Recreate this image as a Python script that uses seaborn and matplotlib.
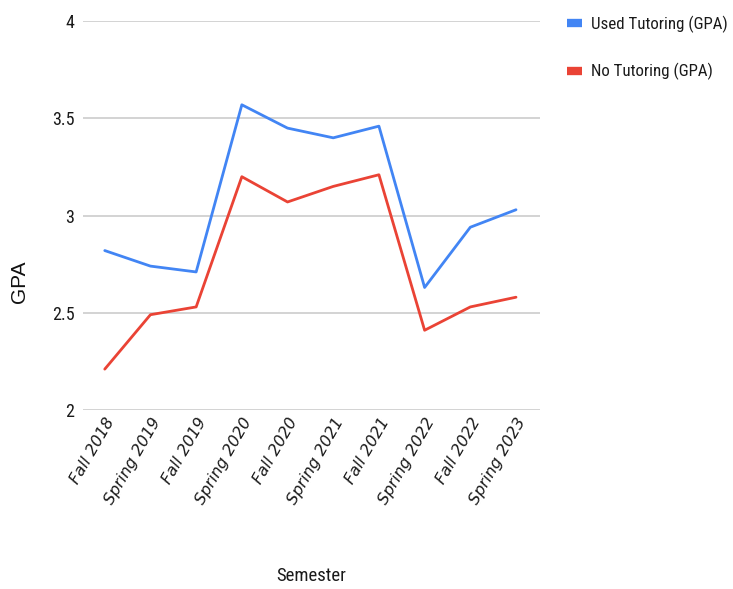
import matplotlib
matplotlib.use("Agg")
import matplotlib.pyplot as plt
from matplotlib import font_manager
from matplotlib.ticker import FuncFormatter
from matplotlib.lines import Line2D
import seaborn as sns
import pandas as pd

semesters = ["Fall 2018", "Spring 2019", "Fall 2019", "Spring 2020", "Fall 2020",
             "Spring 2021", "Fall 2021", "Spring 2022", "Fall 2022", "Spring 2023"]
used_tutoring = [2.82, 2.74, 2.71, 3.57, 3.45, 3.40, 3.46, 2.63, 2.94, 3.03]
no_tutoring = [2.21, 2.49, 2.53, 3.20, 3.07, 3.15, 3.21, 2.41, 2.53, 2.58]
series_names = ["Used Tutoring (GPA)", "No Tutoring (GPA)"]
colors = ["#4285F4", "#EA4335"]

df = pd.DataFrame({
    "Semester": semesters * 2,
    "GPA": used_tutoring + no_tutoring,
    "Series": [series_names[0]] * len(semesters) + [series_names[1]] * len(semesters),
})
df["pos"] = list(range(len(semesters))) * 2

sns.set_theme(style="white")

installed = {f.name for f in font_manager.fontManager.ttflist}
face = "Roboto Condensed" if "Roboto Condensed" in installed else "Liberation Sans"
plt.rcParams["font.family"] = [face, "DejaVu Sans"]

fig = plt.figure(figsize=(7.33, 5.89), dpi=100)
ax = fig.add_axes([0.113, 0.304, 0.624, 0.660])

sns.lineplot(data=df, x="pos", y="GPA", hue="Series", palette=colors,
             linewidth=2.0, ax=ax, legend=False, sort=False)

ax.set_xlim(-0.48, 9.53)
ax.set_ylim(2, 4)
ax.set_yticks([2, 2.5, 3, 3.5, 4])
ax.yaxis.set_major_formatter(FuncFormatter(lambda v, p: f"{v:g}"))
ax.set_xticks(range(len(semesters)))
# slanted semester names (DejaVu Sans ships an oblique face)
ax.set_xticklabels(semesters, rotation=60, ha="right", rotation_mode="anchor",
                   color="#1a1a1a")
for lbl in ax.get_xticklabels():
    lbl.set_family("DejaVu Sans")
    lbl.set_style("oblique")
    lbl.set_size(11.5)
ax.tick_params(axis="y", labelsize=13, labelcolor="#1a1a1a", length=0, pad=6)
ax.tick_params(axis="x", length=0, pad=4)
ax.grid(axis="y", color="#cccccc", linewidth=1.2)
ax.set_axisbelow(True)
for s in ax.spines.values():
    s.set_visible(False)

ax.set_xlabel("Semester", fontsize=13.5, color="#1a1a1a")
ax.xaxis.set_label_coords(0.5, -0.405)
ax.set_ylabel("GPA", fontsize=15, color="#111111",
              family=["Liberation Sans", "DejaVu Sans"])
ax.yaxis.set_label_coords(-0.118, 0.33)

handles = [Line2D([0], [0], color=c, linewidth=6, solid_capstyle="butt") for c in colors]
fig.legend(handles, series_names, loc="upper left", bbox_to_anchor=(0.753, 1.0),
           frameon=False, fontsize=12.2, handlelength=0.85, handletextpad=0.55,
           labelspacing=1.8, labelcolor="#1a1a1a")

fig.savefig("out.png", dpi=100)
